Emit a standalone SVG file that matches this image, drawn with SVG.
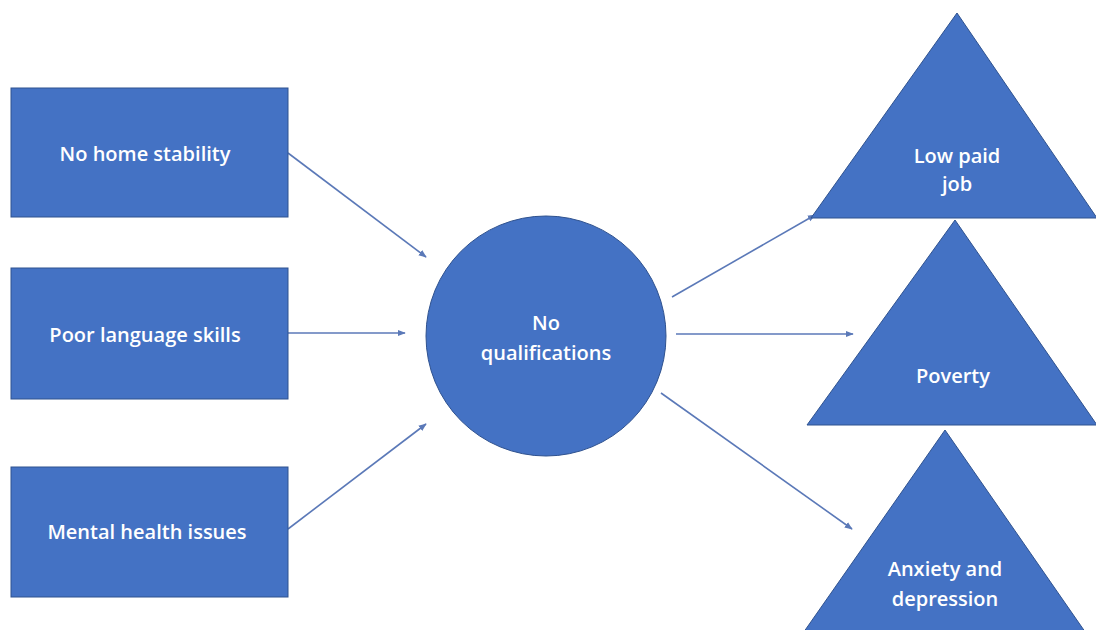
<svg xmlns="http://www.w3.org/2000/svg" width="1096" height="630" viewBox="0 0 1096 630">
<style>
.shape{fill:#4472C4;stroke:#2F528F;stroke-width:1}
.lbl{fill:#ffffff;font-family:"Open Sans","Liberation Sans",sans-serif;font-size:20px;font-weight:600;text-anchor:middle;dominant-baseline:central}
.conn{stroke:#5B79B8;stroke-width:1.6;fill:none;marker-end:url(#ah)}
</style>
<defs>
<marker id="ah" viewBox="0 0 10 10" refX="9" refY="5" markerWidth="5" markerHeight="5" orient="auto" markerUnits="strokeWidth">
<path d="M0,1 L10,5 L0,9 z" fill="#5B79B8"/>
</marker>
</defs>
<rect width="1096" height="630" fill="#ffffff"/>
<g id="connectors">
<line class="conn" x1="288" y1="153" x2="426" y2="257"/>
<line class="conn" x1="288" y1="333" x2="405" y2="333"/>
<line class="conn" x1="288" y1="529" x2="426" y2="424"/>
<line class="conn" x1="672" y1="297" x2="815" y2="215"/>
<line class="conn" x1="676" y1="334" x2="853" y2="334"/>
<line class="conn" x1="661" y1="393" x2="852" y2="529"/>
</g>
<g id="n1"><rect class="shape" x="11" y="88" width="277" height="129"/><text class="lbl" x="145" y="153">No home stability</text></g>
<g id="n2"><rect class="shape" x="11" y="268" width="277" height="131"/><text class="lbl" x="145" y="334">Poor language skills</text></g>
<g id="n3"><rect class="shape" x="11" y="467" width="277" height="130"/><text class="lbl" x="147" y="531">Mental health issues</text></g>
<g id="c"><circle class="shape" cx="546" cy="336" r="120"/><text class="lbl" x="546" y="322">No</text><text class="lbl" x="546" y="352">qualifications</text></g>
<g id="t1"><polygon class="shape" points="957,13 1097,218 811,218"/><text class="lbl" x="957" y="155">Low paid</text><text class="lbl" x="957" y="183">job</text></g>
<g id="t2"><polygon class="shape" points="955,220 1097,425 807,425"/><text class="lbl" x="953" y="375">Poverty</text></g>
<g id="t3"><polygon class="shape" points="945,430 1088,636 801,636"/><text class="lbl" x="945" y="568">Anxiety and</text><text class="lbl" x="945" y="598">depression</text></g>
</svg>
